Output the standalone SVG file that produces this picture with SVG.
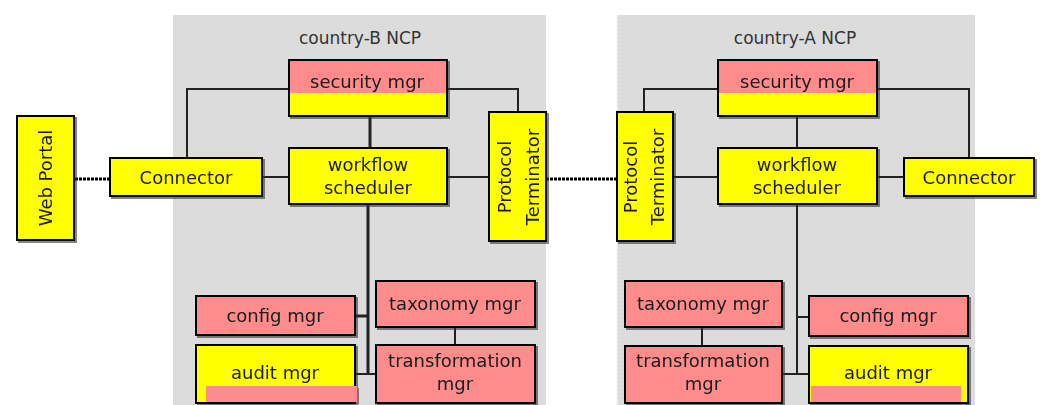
<svg xmlns="http://www.w3.org/2000/svg" width="1042" height="405" viewBox="0 0 1042 405">
<defs>
<filter id="sh" x="-5%" y="-5%" width="115%" height="125%">
<feDropShadow dx="2" dy="2" stdDeviation="0.6" flood-color="#333" flood-opacity="0.6"/>
</filter>
</defs>
<style>
.panel{fill:#dcdcdc}
.title{font-family:"DejaVu Sans",sans-serif;font-size:17px;fill:#333;text-anchor:middle}
.lbl{font-family:"DejaVu Sans",sans-serif;font-size:18px;fill:#1a1a1a;text-anchor:middle}
.y{fill:#ffff00;stroke:#000;stroke-width:2}
.p{fill:#ff8c8c;stroke:#000;stroke-width:2}
.c{fill:none;stroke:#222;stroke-width:2}
.ct{fill:none;stroke:#222;stroke-width:3}
.d{fill:none;stroke:#000;stroke-width:3;stroke-dasharray:3 1}
.node{filter:url(#sh)}
</style>
<rect class="panel" x="173" y="15" width="373" height="395"/>
<rect class="panel" x="617" y="15" width="358" height="395"/>
<line x1="617" y1="15" x2="617" y2="405" stroke="#f4f4f4" stroke-width="2" stroke-dasharray="2 2"/>
<text class="title" x="360" y="44">country-B NCP</text>
<text class="title" x="795" y="44">country-A NCP</text>
<g id="connectors">
<path class="c" d="M289 89H187V158"/>
<path class="c" d="M447 89H518V112"/>
<line class="ct" x1="370" y1="116" x2="370" y2="148"/>
<line class="c" x1="262" y1="177" x2="289" y2="177"/>
<line class="c" x1="447" y1="177" x2="489" y2="177"/>
<line class="d" x1="75" y1="179" x2="110" y2="179"/>
<line class="d" x1="546" y1="179" x2="617" y2="179"/>
<line class="ct" x1="368" y1="204" x2="368" y2="374"/>
<line class="ct" x1="355" y1="316" x2="368" y2="316"/>
<line class="c" x1="355" y1="374" x2="376" y2="374"/>
<line class="c" x1="455" y1="327" x2="455" y2="345"/>
<path class="c" d="M718 89H644V112"/>
<path class="c" d="M877 89H969V158"/>
<line class="c" x1="797" y1="116" x2="797" y2="148"/>
<line class="c" x1="673" y1="177" x2="718" y2="177"/>
<line class="c" x1="877" y1="177" x2="904" y2="177"/>
<line class="c" x1="797" y1="204" x2="797" y2="374"/>
<line class="c" x1="797" y1="317" x2="809" y2="317"/>
<line class="c" x1="782" y1="374" x2="809" y2="374"/>
<line class="c" x1="702" y1="327" x2="702" y2="346"/>
</g>
<g id="web-portal" class="node">
<rect class="y" x="17" y="116" width="57" height="124"/>
<text class="lbl" transform="translate(52,178) rotate(-90)">Web Portal</text>
</g>
<g id="connector-b" class="node">
<rect class="y" x="110" y="158" width="152" height="38"/>
<text class="lbl" x="186" y="184">Connector</text>
</g>
<g id="security-b" class="node">
<rect x="289" y="93" width="158" height="23" fill="#ffff00"/>
<rect x="289" y="60" width="158" height="33" fill="#ff8c8c"/>
<rect x="289" y="60" width="158" height="56" fill="none" stroke="#000" stroke-width="2"/>
<text class="lbl" x="367" y="88">security mgr</text>
</g>
<g id="workflow-b" class="node">
<rect class="y" x="289" y="148" width="158" height="56"/>
<text class="lbl" x="368" y="171">workflow</text>
<text class="lbl" x="368" y="194">scheduler</text>
</g>
<g id="protocol-b" class="node">
<rect class="y" x="489" y="112" width="57" height="129"/>
<text class="lbl" transform="translate(511,177) rotate(-90)">Protocol</text>
<text class="lbl" transform="translate(539,177) rotate(-90)">Terminator</text>
</g>
<g id="config-b" class="node">
<rect class="p" x="196" y="296" width="159" height="39"/>
<text class="lbl" x="275" y="322">config mgr</text>
</g>
<g id="taxonomy-b" class="node">
<rect class="p" x="376" y="281" width="159" height="46"/>
<text class="lbl" x="455" y="310">taxonomy mgr</text>
</g>
<g id="audit-b" class="node">
<rect class="y" x="196" y="345" width="159" height="58"/>
<rect x="206" y="386" width="151" height="16" fill="#ff8c8c"/>
<text class="lbl" x="275" y="379">audit mgr</text>
</g>
<g id="transformation-b" class="node">
<rect class="p" x="376" y="345" width="159" height="58"/>
<text class="lbl" x="455" y="367">transformation</text>
<text class="lbl" x="455" y="390">mgr</text>
</g>
<g id="protocol-a" class="node">
<rect class="y" x="617" y="112" width="56" height="129"/>
<text class="lbl" transform="translate(637,177) rotate(-90)">Protocol</text>
<text class="lbl" transform="translate(664,177) rotate(-90)">Terminator</text>
</g>
<g id="security-a" class="node">
<rect x="718" y="93" width="159" height="23" fill="#ffff00"/>
<rect x="718" y="60" width="159" height="33" fill="#ff8c8c"/>
<rect x="718" y="60" width="159" height="56" fill="none" stroke="#000" stroke-width="2"/>
<text class="lbl" x="797" y="88">security mgr</text>
</g>
<g id="workflow-a" class="node">
<rect class="y" x="718" y="148" width="159" height="56"/>
<text class="lbl" x="797" y="171">workflow</text>
<text class="lbl" x="797" y="194">scheduler</text>
</g>
<g id="connector-a" class="node">
<rect class="y" x="904" y="158" width="130" height="38"/>
<text class="lbl" x="969" y="184">Connector</text>
</g>
<g id="taxonomy-a" class="node">
<rect class="p" x="625" y="281" width="157" height="46"/>
<text class="lbl" x="703" y="310">taxonomy mgr</text>
</g>
<g id="transformation-a" class="node">
<rect class="p" x="625" y="346" width="157" height="57"/>
<text class="lbl" x="703" y="367">transformation</text>
<text class="lbl" x="703" y="390">mgr</text>
</g>
<g id="config-a" class="node">
<rect class="p" x="809" y="296" width="159" height="40"/>
<text class="lbl" x="888" y="322">config mgr</text>
</g>
<g id="audit-a" class="node">
<rect class="y" x="809" y="346" width="159" height="57"/>
<rect x="811" y="386" width="150" height="16" fill="#ff8c8c"/>
<text class="lbl" x="888" y="379">audit mgr</text>
</g>
</svg>
